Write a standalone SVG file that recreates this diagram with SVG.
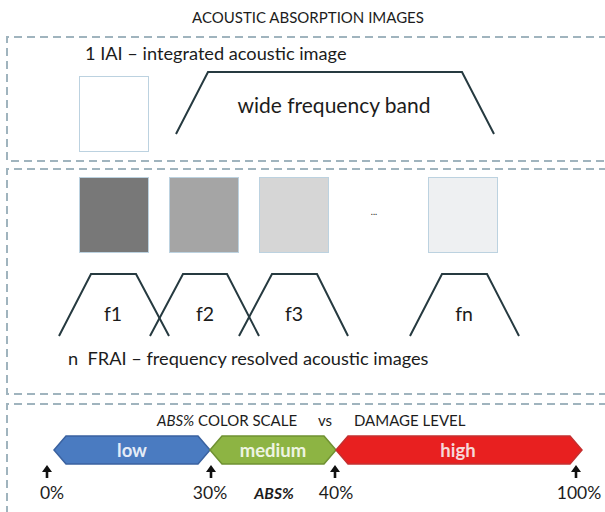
<svg xmlns="http://www.w3.org/2000/svg" width="605" height="512" viewBox="0 0 605 512">
  <defs>
    <style>
      .t { font-family: Lato, "Liberation Sans", sans-serif; fill: #1c1c1c; }
      .panel { fill: none; stroke: #a0b4be; stroke-width: 2; stroke-dasharray: 8 5; }
      .img { stroke: #bcd2e0; stroke-width: 1; }
      .band { fill: none; stroke: #263a40; stroke-width: 2; stroke-linejoin: miter; }
      .seg-label { font-family: Lato, "Liberation Sans", sans-serif; font-size: 18.5px; font-weight: bold; text-anchor: middle; }
      .tick { fill: #111; }
      .pct { font-family: Lato, "Liberation Sans", sans-serif; font-size: 17.5px; fill: #1c1c1c; text-anchor: middle; }
    </style>
  </defs>
  <rect width="605" height="512" fill="#ffffff"/>

  <!-- heading -->
  <g id="title">
    <text class="t" x="308" y="23" font-size="15" text-anchor="middle">ACOUSTIC ABSORPTION IMAGES</text>
  </g>

  <!-- dashed panels, open to the right -->
  <g id="panels">
    <path class="panel" d="M620 37 H7 V161 H620"/>
    <path class="panel" d="M620 169 H7 V394 H620"/>
    <path class="panel" d="M620 404 H7 V520"/>
  </g>

  <!-- integrated acoustic image -->
  <g id="iai">
    <text class="t" x="85" y="60" font-size="18.2">1 IAI – integrated acoustic image</text>
    <rect class="img" x="79.5" y="76.5" width="69" height="75" fill="#ffffff"/>
  </g>
  <g id="wide-band">
    <polyline class="band" points="176,134 208,72 462,72 494,134"/>
    <text class="t" x="334" y="113" font-size="21" text-anchor="middle">wide frequency band</text>
  </g>

  <!-- frequency resolved acoustic images -->
  <g id="frai-images">
    <rect class="img" x="79.5" y="177.5" width="69" height="75" fill="#787878"/>
    <rect class="img" x="169.5" y="177.5" width="69" height="75" fill="#a5a5a5"/>
    <rect class="img" x="259.5" y="177.5" width="69" height="75" fill="#d6d6d6"/>
    <text class="t" x="374" y="215" font-size="9" text-anchor="middle">...</text>
    <rect class="img" x="428.5" y="177.5" width="69" height="75" fill="#eef0f2"/>
  </g>
  <g id="band-f1">
    <polyline class="band" points="59,336 91,274 136,274 169,336"/>
    <text class="t" x="113" y="321" font-size="19.5" text-anchor="middle">f1</text>
  </g>
  <g id="band-f2">
    <polyline class="band" points="150,336 183,274 227,274 259,336"/>
    <text class="t" x="205" y="321" font-size="19.5" text-anchor="middle">f2</text>
  </g>
  <g id="band-f3">
    <polyline class="band" points="239,336 272,274 317,274 348,336"/>
    <text class="t" x="294" y="321" font-size="19.5" text-anchor="middle">f3</text>
  </g>
  <g id="band-fn">
    <polyline class="band" points="410,336 442,274 487,274 519,336"/>
    <text class="t" x="464" y="321" font-size="19.5" text-anchor="middle">fn</text>
  </g>
  <g id="frai-caption">
    <text class="t" x="68" y="365" font-size="18.2" xml:space="preserve">n  FRAI – frequency resolved acoustic images</text>
  </g>

  <!-- ABS% colour scale -->
  <g id="scale-title">
    <text class="t" x="157" y="426" font-size="15"><tspan font-style="italic">ABS%</tspan> COLOR SCALE<tspan x="318">vs</tspan><tspan x="354">DAMAGE LEVEL</tspan></text>
  </g>
  <g id="seg-low">
    <polygon points="54,450 66,436 198,436 210,450 198,464 66,464" fill="#4a7bc1" stroke="#3a62a0" stroke-width="1.5"/>
    <text class="seg-label" x="132" y="457" fill="#e4ecf7">low</text>
  </g>
  <g id="seg-medium">
    <polygon points="210,450 222,436 324,436 336,450 324,464 222,464" fill="#8db443" stroke="#6f9132" stroke-width="1.5"/>
    <text class="seg-label" x="273" y="457" fill="#eef4e2">medium</text>
  </g>
  <g id="seg-high">
    <polygon points="336,450 348,436 570,436 582,450 570,464 348,464" fill="#e82020" stroke="#c43030" stroke-width="1.5"/>
    <text class="seg-label" x="458" y="457" fill="#f6d8d8">high</text>
  </g>

  <!-- tick arrows and values -->
  <g id="ticks">
    <g id="tick-0">
      <path class="tick" d="M47 465 L52 472 L48.3 472 L48.3 478 L45.7 478 L45.7 472 L42 472 Z"/>
      <text class="pct" x="52" y="499">0%</text>
    </g>
    <g id="tick-30">
      <path class="tick" d="M211 465 L216 472 L212.3 472 L212.3 478 L209.7 478 L209.7 472 L206 472 Z"/>
      <text class="pct" x="210" y="499">30%</text>
    </g>
    <g id="tick-40">
      <path class="tick" d="M335 465 L340 472 L336.3 472 L336.3 478 L333.7 478 L333.7 472 L330 472 Z"/>
      <text class="pct" x="336" y="499">40%</text>
    </g>
    <g id="tick-100">
      <path class="tick" d="M576 465 L581 472 L577.3 472 L577.3 478 L574.7 478 L574.7 472 L571 472 Z"/>
      <text class="pct" x="579" y="499">100%</text>
    </g>
    <text class="t" x="274" y="499" font-size="15.5" font-weight="bold" font-style="italic" text-anchor="middle">ABS%</text>
  </g>
</svg>
